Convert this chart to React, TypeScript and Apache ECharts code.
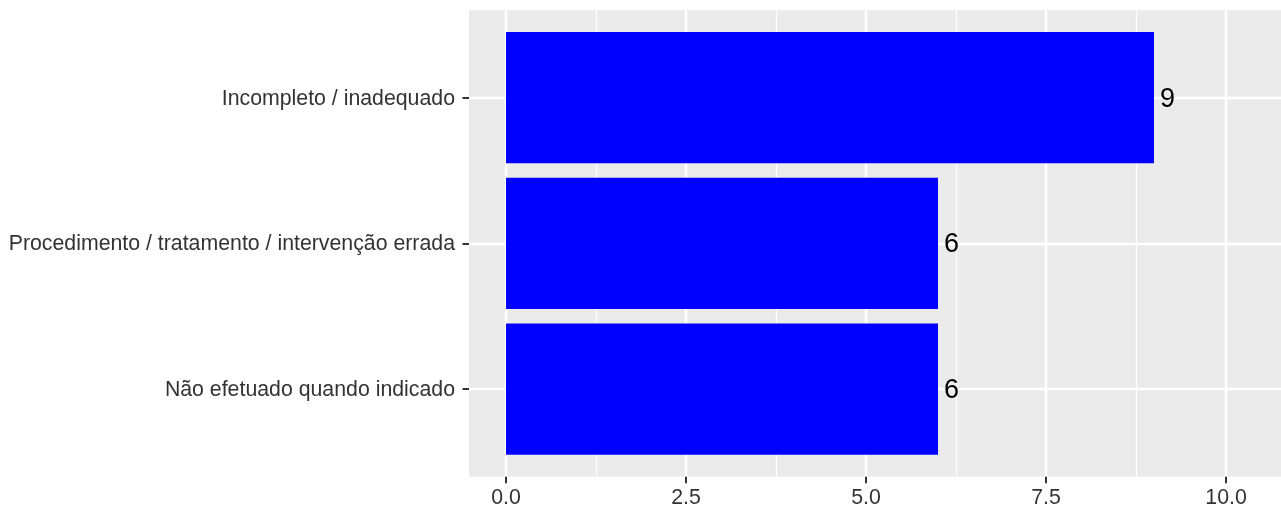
import React, { useEffect, useRef } from 'react';
import * as echarts from 'echarts';

// ---- data ----
const categories = [
  'Não efetuado quando indicado',
  'Procedimento / tratamento / intervenção errada',
  'Incompleto / inadequado',
];
const values = [6, 6, 9];
const xTicks = [0, 2.5, 5, 7.5, 10];
const xMinorTicks = [1.25, 3.75, 6.25, 8.75];
const catPositions = [1, 2, 3];

const FONT = '"Liberation Sans", Arial, Helvetica, sans-serif';
const AXIS_TEXT = '#333333';

export default function App() {
  const ref = useRef<HTMLDivElement>(null);

  useEffect(() => {
    if (!ref.current) return;
    const chart = echarts.init(ref.current, undefined, { renderer: 'svg' });

    const L = 469;
    const T = 10;
    const W = 812;
    const H = 466.7;
    const unit = H / 3.2;
    const pxPerUnit = 72;
    const xMin = -(506 - L) / pxPerUnit;
    const xMax = xMin + W / pxPerUnit;

    const option: any = {
      animation: false,
      textStyle: { fontFamily: FONT },
      grid: [
        { left: L, top: T, width: W, height: H, show: true, backgroundColor: '#EBEBEB', borderWidth: 0 },
        { left: L, top: T + 0.1 * unit, width: W, height: 3 * unit, show: false },
      ],
      xAxis: [
        {
          gridIndex: 0,
          type: 'value',
          min: xMin,
          max: xMax,
          axisLine: { show: false, onZero: false },
          axisTick: { show: true, customValues: xTicks, length: 6.5, lineStyle: { color: '#333333', width: 2 } },
          axisLabel: {
            customValues: xTicks,
            formatter: (v: number) => v.toFixed(1),
            fontSize: 21.3,
            color: AXIS_TEXT,
            margin: 10,
            fontFamily: FONT,
          },
          splitLine: { show: true, lineStyle: { color: '#FFFFFF', width: 2.4 } },
        },
        {
          gridIndex: 0,
          type: 'value',
          position: 'bottom',
          min: xMin,
          max: xMax,
          axisLine: { show: false, onZero: false },
          axisTick: { show: false, customValues: xMinorTicks },
          axisLabel: { show: false, customValues: xMinorTicks },
          splitLine: { show: true, lineStyle: { color: '#FFFFFF', width: 1.2 } },
        },
        { gridIndex: 1, type: 'value', min: xMin, max: xMax, show: false },
      ],
      yAxis: [
        {
          gridIndex: 0,
          type: 'value',
          min: 0.4,
          max: 3.6,
          axisLine: { show: false, onZero: false },
          axisTick: { show: false, customValues: catPositions },
          axisLabel: { show: false, customValues: catPositions },
          splitLine: { show: true, lineStyle: { color: '#FFFFFF', width: 2.4 } },
        },
        {
          gridIndex: 1,
          type: 'category',
          data: categories,
          position: 'left',
          axisLine: { show: false, onZero: false },
          axisTick: { show: true, alignWithLabel: true, length: 6.5, lineStyle: { color: '#333333', width: 2 } },
          axisLabel: { interval: 0, fontSize: 21.3, color: AXIS_TEXT, margin: 14, fontFamily: FONT },
          splitLine: { show: false },
        },
      ],
      series: [
        {
          type: 'bar',
          xAxisIndex: 2,
          yAxisIndex: 1,
          data: values,
          barWidth: 0.9 * unit,
          itemStyle: { color: '#0000FF' },
          label: {
            show: true,
            position: 'right',
            distance: 6,
            fontSize: 27,
            color: '#000000',
            fontFamily: FONT,
          },
        },
      ],
    };

    chart.setOption(option);
    return () => chart.dispose();
  }, []);

  return (
    <div
      ref={ref}
      style={{ position: 'fixed', left: 0, top: 0, width: 1281, height: 510 }}
    />
  );
}
